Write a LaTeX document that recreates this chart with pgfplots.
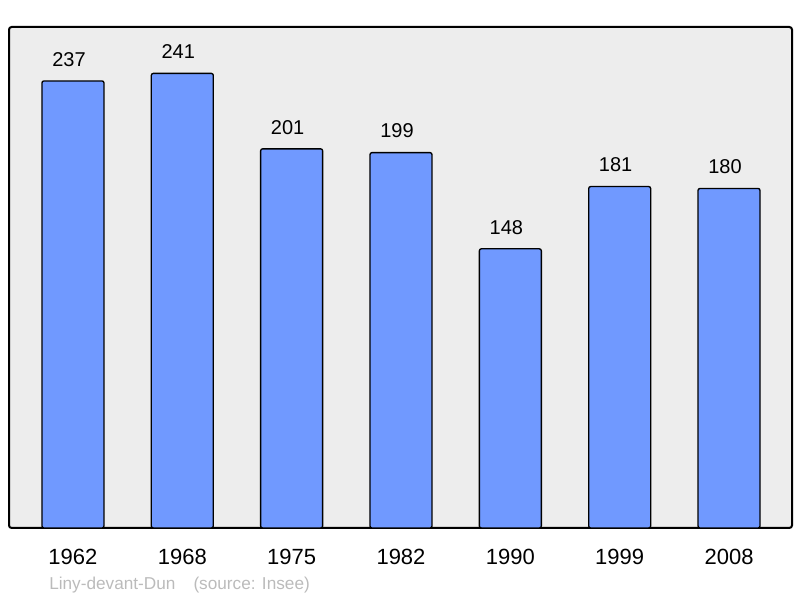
\documentclass[border=0pt]{standalone}
\usepackage{pgfplots}
\pgfplotsset{compat=1.18}
\usepackage{fontspec}
\setmainfont{Liberation Sans}
\definecolor{barblue}{HTML}{7099FF}
\definecolor{bggray}{HTML}{EDEDED}
\definecolor{srcgray}{HTML}{BBBBBB}
\begin{document}
\begin{tikzpicture}
\useasboundingbox (0,0) rectangle (600pt,448.5pt);
\begin{axis}[
  at={(6.75pt,52.5pt)}, anchor=south west,
  scale only axis, width=587.25pt, height=375.75pt,
  xmin=-0.585, xmax=6.576, ymin=0, ymax=265.6,
  axis background/.style={fill=bggray},
  axis line style={line width=1.5pt, rounded corners=2pt},
  ytick=\empty,
  xtick=data,
  xticklabels={1962,1968,1975,1982,1990,1999,2008},
  major tick length=0pt,
  xticklabel style={font=\fontsize{16.5}{18}\selectfont, yshift=-12pt},
  /pgf/number format/assume math mode=true,
  ybar, bar width=46.5pt,
  nodes near coords,
  nodes near coords style={font=\fontsize{15}{17}\selectfont, black, yshift=7pt, xshift=-3pt},
]
\addplot[fill=barblue, draw=black, line width=1pt, rounded corners=1.5pt] coordinates {
(0,237) (1,241) (2,201) (3,199) (4,148) (5,181) (6,180)};
\end{axis}
\node[anchor=base west, text=srcgray, font=\fontsize{12.9}{14}\selectfont, inner sep=0pt] at (36.75pt,6pt) {Liny-devant-Dun\hspace{1.05em}(source: Insee)};
\end{tikzpicture}
\end{document}
